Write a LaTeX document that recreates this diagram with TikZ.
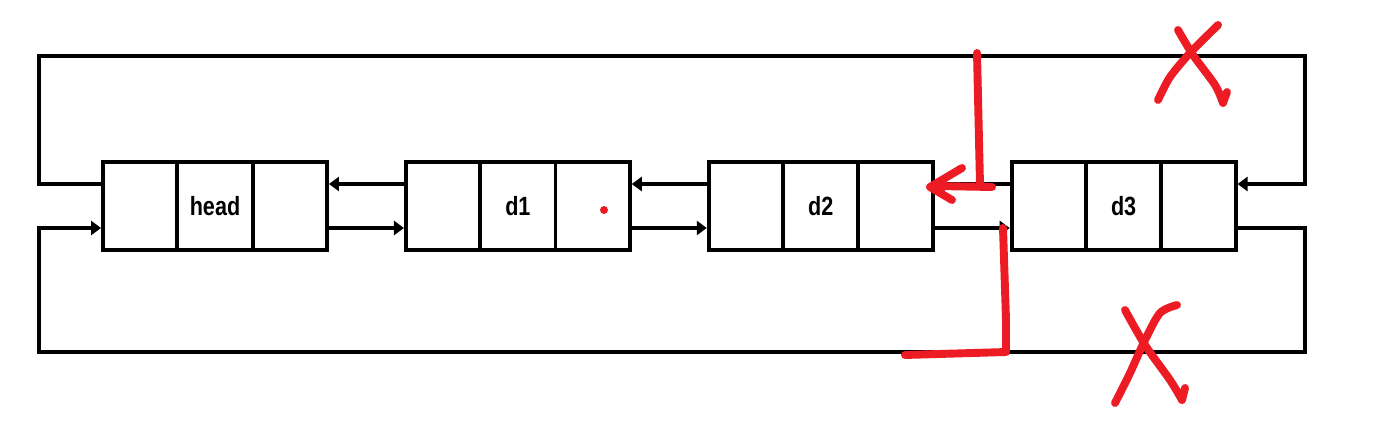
\documentclass[tikz,border=0pt]{standalone}
\usepackage{fontspec}
\setmainfont{Liberation Sans}
\newfontfamily\cellfont[FakeStretch=0.82]{Liberation Sans}
\usetikzlibrary{arrows.meta,positioning}
\definecolor{penred}{RGB}{237,28,36}

\begin{document}
\begin{tikzpicture}[>={Triangle[length=5.7pt,width=8pt]},
  node distance=1.50cm,
  listnode/.style={draw, line width=2.2pt, minimum width=4.48cm, minimum height=1.76cm,
    font=\cellfont\bfseries\fontsize{15}{18}\selectfont},
  link/.style={->, line width=2.2pt},
  pen/.style={penred, line width=4.5pt, line cap=round, line join=round}]

\useasboundingbox (0,0) rectangle (27.84,8.56);

% List nodes
\node[listnode] (head) at (4.30,4.44) {head};
\node[listnode, right=of head] (d1) {d1};
\node[listnode, right=of d1] (d2) {d2};
\node[listnode, right=of d2] (d3) {d3};

% Cell dividers
\foreach \n in {head,d1,d2,d3} {
  \draw[line width=2.2pt] ([xshift=-0.753cm]\n.north) -- ([xshift=-0.753cm]\n.south);
  \draw[line width=2.2pt] ([xshift=0.753cm]\n.north) -- ([xshift=0.753cm]\n.south);
}

% prev / next links
\foreach \a/\b in {head/d1, d1/d2, d2/d3} {
  \draw[link] ([yshift=0.44cm]\b.west) -- ([yshift=0.44cm]\a.east);
  \draw[link] ([yshift=-0.44cm]\a.east) -- ([yshift=-0.44cm]\b.west);
}

% Loop corners
\coordinate (tl) at (0.78,7.44);
\coordinate (tr) at (26.10,7.44);
\coordinate (bl) at (0.78,1.52);
\coordinate (br) at (26.10,1.52);

% head.prev -> d3 (top loop)
\draw[link] ([yshift=0.44cm]head.west) -| (tl) -- (tr) |- ([yshift=0.44cm]d3.east);
% d3.next -> head (bottom loop)
\draw[link] ([yshift=-0.44cm]d3.east) -| (br) -- (bl) |- ([yshift=-0.44cm]head.west);

% Red pen marks
\fill[penred] (12.08,4.36) circle (0.08);

\draw[pen] (19.54,7.50) -- (19.60,4.86);
\draw[pen] (19.84,4.82) -- (18.70,4.84);
\draw[pen] (19.24,5.20) -- (18.60,4.82) -- (19.04,4.56);

\draw[pen] (20.06,4.00) -- (20.12,2.16) -- (20.12,1.52) -- (18.10,1.46);

% Crosses
\draw[pen] plot[smooth] coordinates {(23.56,7.96) (23.86,7.46) (24.30,6.86) (24.46,6.50)} -- (24.54,6.72);
\draw[pen] plot[smooth] coordinates {(23.16,6.56) (23.40,7.02) (23.80,7.50) (24.36,8.06)};
\draw[pen] plot[smooth] coordinates {(22.50,2.36) (22.90,1.66) (23.40,0.96) (23.64,0.56)} -- (23.70,0.80);
\draw[pen] plot[smooth] coordinates {(22.30,0.50) (22.60,1.10) (22.90,1.76) (23.20,2.30) (23.54,2.46)};

\end{tikzpicture}
\end{document}
